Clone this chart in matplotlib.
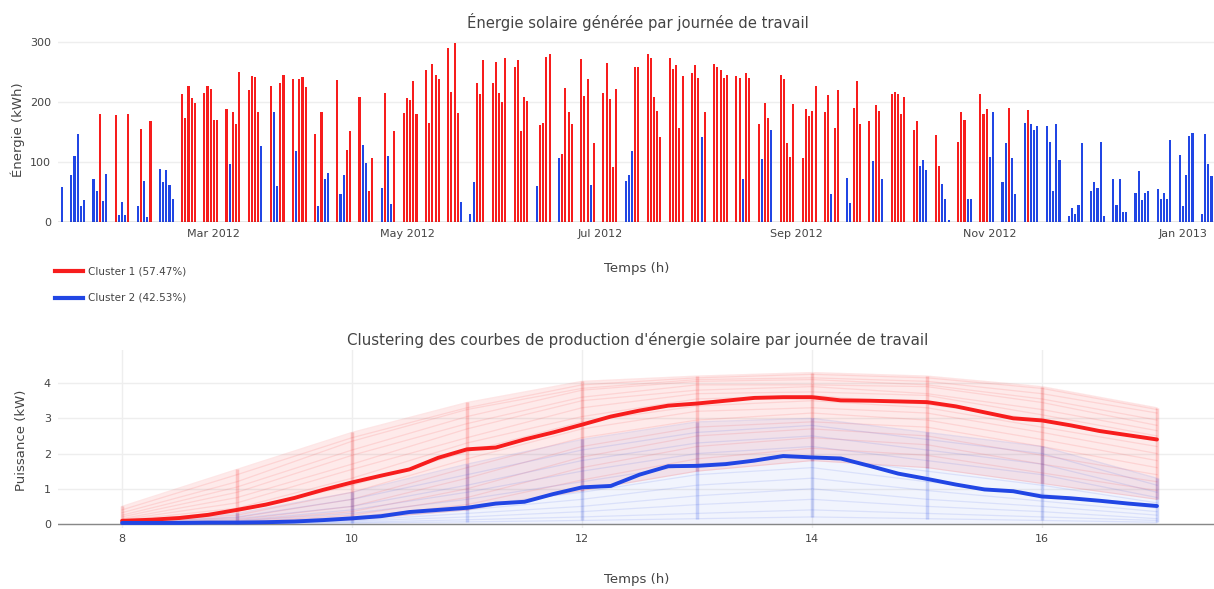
import numpy as np
import pandas as pd
import matplotlib
matplotlib.use("Agg")
import matplotlib.pyplot as plt
from matplotlib.lines import Line2D

plt.rcParams['font.family'] = ['DejaVu Sans']

RED = '#f71d1d'
BLUE = '#2146e4'
TXT = '#444444'
GRID = '#eeeeee'

# --- énergie journalière (kWh), un jour ouvré par valeur, à partir du ven. 13/01/2012
energy_weeks = [
    [59],
    [79, 110, 146, 26, 36], [71, 51, 181, 35, 80], [179, 12, 34, 11, 181],
    [26, 156, 69, 8, 168], [88, 66, 87, 61, 39], [213, 173, 227, 207, 199],
    [216, 227, 222, 171, 171], [189, 96, 183, 163, 251], [221, 243, 242, 183, 127],
    [227, 183, 60, 232, 245], [239, 118, 239, 242, 225], [146, 26, 184, 71, 81],
    [237, 46, 79, 120, 152], [208, 128, 99, 51, 106], [56, 216, 110, 30, 152],
    [182, 207, 204, 235, 181], [253, 166, 264, 245, 239], [291, 217, 298, 182, 34],
    [14, 66, 232, 214, 270], [232, 267, 216, 201, 273], [258, 271, 152, 208, 202],
    [60, 162, 166, 276, 280], [106, 113, 224, 184, 164], [272, 210, 239, 61, 131],
    [216, 266, 206, 91, 222], [68, 79, 119, 259, 259], [281, 274, 208, 186, 141],
    [274, 255, 262, 157, 243], [248, 262, 241, 141, 184], [263, 258, 253, 241, 245],
    [243, 241, 71, 249, 241], [164, 105, 199, 173, 153], [245, 238, 131, 108, 197],
    [106, 188, 177, 185, 227], [184, 212, 47, 157, 221], [73, 31, 191, 236, 164],
    [168, 102, 195, 186, 72], [214, 217, 213, 180, 208], [153, 168, 94, 103, 87],
    [145, 94, 63, 39, 3], [134, 184, 170, 38, 38], [213, 181, 188, 108, 183],
    [67, 131, 191, 107, 46], [166, 187, 163, 154, 161], [161, 133, 52, 164, 103],
    [10, 24, 13, 28, 132], [52, 67, 57, 134, 10], [72, 28, 72, 17, 17],
    [48, 85, 36, 49, 51], [55, 38, 48, 38, 137], [111, 26, 79, 144, 149],
    [13, 147, 96, 76],
]
cluster_weeks = [
    "b",
    "bbbbb", "bbrbb", "rbbbr", "brbbr", "bbbbb", "rrrrr", "rrrrr", "rbrrr",
    "rrrrb", "rbbrr", "rbrrr", "rbrbb", "rbbrr", "rbbrr", "brbbr", "rrrrr",
    "rrrrr", "rrrrb", "bbrrr", "rrrrr", "rrrrr", "brrrr", "brrrr", "rrrbr",
    "rrrrr", "bbbrr", "rrrrr", "rrrrr", "rrrbr", "rrrrr", "rrbrr", "rbrrb",
    "rrrrr", "rrrrr", "rrbrr", "bbrrr", "rbrrb", "rrrrr", "rrbbb", "rrbbb",
    "rrrbb", "rrrbb", "bbrbb", "brbbb", "bbbbb", "bbbbb", "bbbbb", "bbbbb",
    "bbbbb", "bbbbb", "bbbbb", "bbbb",
]
month_ticks = ["2012-03-01", "2012-05-01", "2012-07-01", "2012-09-01", "2012-11-01", "2013-01-01"]
month_labels = ["Mar 2012", "May 2012", "Jul 2012", "Sep 2012", "Nov 2012", "Jan 2013"]

# --- courbes de puissance (kW)
hours = list(range(8, 18))
quarter_hours = np.arange(8, 17.01, 0.25)
mean_c1 = [0.09, 0.12, 0.17, 0.26, 0.40, 0.55, 0.74, 0.97, 1.18, 1.37, 1.55, 1.88, 2.12,
           2.17, 2.40, 2.60, 2.82, 3.05, 3.22, 3.36, 3.42, 3.50, 3.58, 3.60, 3.60, 3.51,
           3.50, 3.48, 3.46, 3.34, 3.17, 3.00, 2.94, 2.80, 2.64, 2.52, 2.40]
mean_c2 = [0.03, 0.03, 0.03, 0.04, 0.04, 0.05, 0.07, 0.11, 0.16, 0.22, 0.34, 0.40, 0.46,
           0.58, 0.63, 0.85, 1.04, 1.08, 1.40, 1.64, 1.65, 1.70, 1.80, 1.93, 1.89, 1.86,
           1.65, 1.43, 1.28, 1.12, 0.98, 0.93, 0.78, 0.73, 0.66, 0.58, 0.51]

days_c1 = [
    [0.50, 1.55, 2.60, 3.45, 4.05, 4.20, 4.30, 4.20, 3.90, 3.30],
    [0.40, 1.40, 2.45, 3.30, 3.95, 4.15, 4.25, 4.15, 3.85, 3.25],
    [0.32, 1.20, 2.35, 3.25, 3.85, 4.10, 4.15, 4.05, 3.70, 3.15],
    [0.25, 1.05, 2.10, 3.05, 3.80, 4.05, 4.10, 3.95, 3.55, 2.95],
    [0.20, 0.90, 1.95, 2.85, 3.60, 3.95, 3.95, 3.90, 3.45, 2.80],
    [0.15, 0.75, 1.70, 2.70, 3.50, 3.80, 3.90, 3.70, 3.25, 2.65],
    [0.12, 0.60, 1.55, 2.45, 3.30, 3.70, 3.75, 3.65, 3.10, 2.50],
    [0.10, 0.45, 1.30, 2.30, 3.05, 3.55, 3.65, 3.40, 2.95, 2.35],
    [0.08, 0.35, 1.10, 2.05, 2.90, 3.35, 3.50, 3.30, 2.75, 2.20],
    [0.06, 0.25, 0.90, 1.85, 2.70, 3.20, 3.30, 3.15, 2.60, 2.00],
    [0.05, 0.18, 0.70, 1.60, 2.45, 2.95, 3.15, 2.95, 2.40, 1.80],
    [0.04, 0.12, 0.50, 1.30, 2.20, 2.75, 2.90, 2.75, 2.20, 1.60],
    [0.03, 0.08, 0.35, 1.00, 1.90, 2.50, 2.70, 2.50, 1.95, 1.40],
    [0.02, 0.05, 0.25, 0.75, 1.60, 2.20, 2.45, 2.25, 1.70, 1.20],
    [0.02, 0.04, 0.18, 0.55, 1.25, 1.85, 2.15, 1.95, 1.45, 0.95],
    [0.01, 0.03, 0.12, 0.40, 0.95, 1.50, 1.80, 1.60, 1.15, 0.70],
]
days_c2 = [
    [0.05, 0.30, 0.90, 1.70, 2.40, 2.90, 3.00, 2.60, 2.20, 1.30],
    [0.03, 0.20, 0.70, 1.40, 2.10, 2.60, 2.80, 2.40, 2.00, 1.10],
    [0.03, 0.15, 0.50, 1.10, 1.80, 2.30, 2.50, 2.10, 1.70, 0.90],
    [0.02, 0.10, 0.40, 0.90, 1.50, 2.00, 2.20, 1.80, 1.40, 0.75],
    [0.02, 0.08, 0.30, 0.70, 1.20, 1.70, 1.90, 1.50, 1.10, 0.60],
    [0.01, 0.05, 0.20, 0.50, 0.90, 1.40, 1.60, 1.20, 0.85, 0.45],
    [0.01, 0.04, 0.15, 0.40, 0.70, 1.10, 1.30, 0.95, 0.65, 0.35],
    [0.01, 0.03, 0.10, 0.30, 0.50, 0.80, 1.00, 0.70, 0.50, 0.25],
    [0.00, 0.02, 0.08, 0.20, 0.35, 0.55, 0.70, 0.50, 0.35, 0.15],
    [0.00, 0.01, 0.05, 0.12, 0.20, 0.30, 0.40, 0.30, 0.20, 0.10],
    [0.00, 0.01, 0.03, 0.06, 0.10, 0.15, 0.20, 0.15, 0.10, 0.05],
]

W, H = 1214, 589
fig = plt.figure(figsize=(W / 100, H / 100), dpi=100)


def fx(px):
    return px / W


def fy(py):
    return 1 - py / H


def style_axis(ax):
    for s in ax.spines.values():
        s.set_visible(False)
    ax.tick_params(length=0, labelsize=8, colors=TXT, pad=5)
    ax.set_axisbelow(True)


# ---------------- bar chart ----------------
energy = np.array([v for w in energy_weeks for v in w])
clusters = np.array(list("".join(cluster_weeks)))
dates = pd.bdate_range("2012-01-13", periods=len(energy))

ax1 = fig.add_axes([fx(58), fy(222), fx(1214 - 58), (222 - 35) / H])
style_axis(ax1)
for c, col in (("r", RED), ("b", BLUE)):
    m = clusters == c
    ax1.bar(dates[m], energy[m], width=0.66, color=col, linewidth=0)
ax1.set_xlim(pd.Timestamp("2012-01-11 19:00"), pd.Timestamp("2013-01-10 19:00"))
ax1.set_ylim(0, 312)
ax1.set_yticks([0, 100, 200, 300])
ax1.yaxis.grid(True, color=GRID, lw=1)
ax1.axhline(0, color='#444444', lw=1, alpha=0.6)
ax1.set_xticks(pd.to_datetime(month_ticks))
ax1.set_xticklabels(month_labels)

fig.text(fx(638), fy(22), "Énergie solaire générée par journée de travail",
         ha='center', va='center', fontsize=10.6, color=TXT)
fig.text(fx(637), fy(268), "Temps (h)", ha='center', va='center', fontsize=9.5, color=TXT)
fig.text(fx(18), fy(130), "Énergie (kWh)", ha='center', va='center', rotation=90,
         fontsize=9.5, color=TXT)

# legend
for label, col, py in (("Cluster 1 (57.47%)", RED, 271), ("Cluster 2 (42.53%)", BLUE, 298)):
    fig.add_artist(Line2D([fx(55), fx(83)], [fy(py), fy(py)], color=col, lw=3,
                          transform=fig.transFigure))
    fig.text(fx(88), fy(py), label, ha='left', va='center', fontsize=7.5, color=TXT)

# ---------------- courbes ----------------
ax2 = fig.add_axes([fx(58), fy(527.5), fx(1214 - 58), 177.5 / H])
style_axis(ax2)
ax2.set_xlim(7.443, 17.496)
ax2.set_ylim(-0.1, 4.94)
ax2.set_xticks([8, 10, 12, 14, 16])
ax2.set_yticks([0, 1, 2, 3, 4])
ax2.grid(True, color=GRID, lw=1)
ax2.axhline(0, color='#444444', lw=1, alpha=0.6)

for days, col, a_fill in ((days_c1, RED, 0.09), (days_c2, BLUE, 0.06)):
    arr = np.array(days)
    lo, hi = arr.min(axis=0), arr.max(axis=0)
    ax2.fill_between(hours, lo if col == RED else 0, hi, color=col, alpha=a_fill, lw=0)
    for d in days:
        ax2.plot(hours, d, color=col, lw=0.9, alpha=0.11)
    ax2.vlines(hours, lo, hi, color=col, lw=2.5, alpha=0.2)

ax2.plot(quarter_hours, mean_c1, color=RED, lw=2.8, solid_capstyle='round')
ax2.plot(quarter_hours, mean_c2, color=BLUE, lw=2.8, solid_capstyle='round')

fig.text(fx(638), fy(340),
         "Clustering des courbes de production d'énergie solaire par journée de travail",
         ha='center', va='center', fontsize=10.8, color=TXT)
fig.text(fx(637), fy(580), "Temps (h)", ha='center', va='center', fontsize=9.5, color=TXT)
fig.text(fx(22), fy(440), "Puissance (kW)", ha='center', va='center', rotation=90,
         fontsize=9.5, color=TXT)

fig.savefig("out.png", dpi=100)
